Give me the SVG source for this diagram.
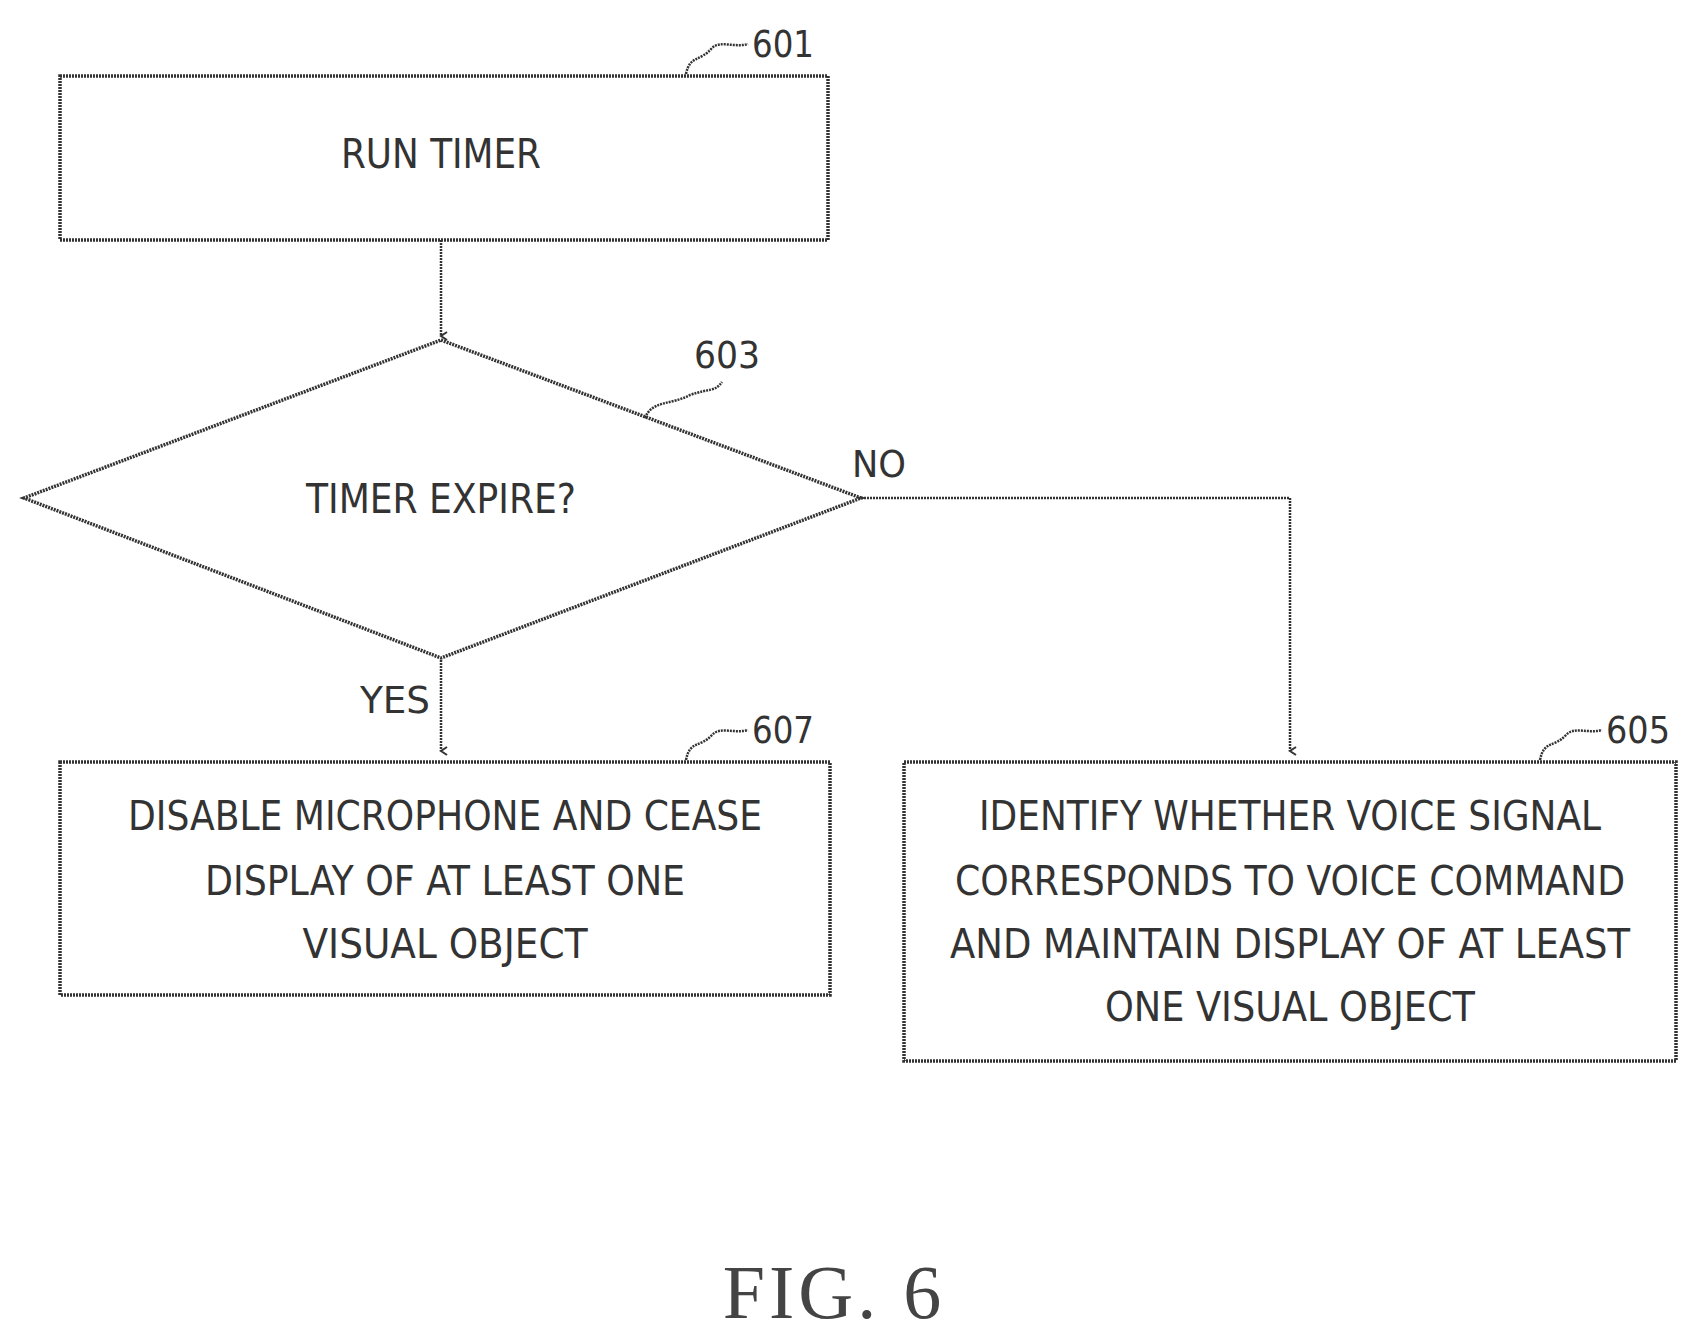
<svg xmlns="http://www.w3.org/2000/svg" width="1700" height="1337" viewBox="0 0 1700 1337">
<style>
.b{fill:#fff;stroke:#333;stroke-width:3.5;stroke-dasharray:2 1}
.t{font-family:"DejaVu Sans Condensed","DejaVu Sans",sans-serif;font-size:40px;fill:#333;text-anchor:middle}
.r{font-family:"DejaVu Sans Condensed","DejaVu Sans",sans-serif;font-size:38px;fill:#333}
.c{fill:none;stroke:#333;stroke-width:2.5;stroke-dasharray:2 1}
</style>
<defs><marker id="a" markerWidth="10" markerHeight="10" refX="5" refY="8" orient="auto-start-reverse" markerUnits="userSpaceOnUse" viewBox="0 0 10 10"><path d="M1,2 L5,8 L9,2" fill="none" stroke="#333" stroke-width="2"/></marker></defs>
<rect width="1700" height="1337" fill="#fff"/>
<g id="connectors">
<line class="c" x1="441" y1="240" x2="441" y2="336" marker-end="url(#a)"/>
<line class="c" x1="441" y1="660" x2="441" y2="751" marker-end="url(#a)"/>
<polyline class="c" points="861,498 1290,498 1290,751" marker-end="url(#a)"/>
</g>
<g id="n601">
<rect class="b" x="60" y="76" width="768" height="164"/>
<text class="t" x="441" y="168" textLength="200" lengthAdjust="spacingAndGlyphs">RUN TIMER</text>
<path class="c" d="M686,74 C690,55 700,62 712,48 C720,40 735,48 748,44"/>
<text class="r" x="752" y="57" textLength="62" lengthAdjust="spacingAndGlyphs">601</text>
</g>
<g id="n603">
<polygon class="b" points="441,340 861,498 441,658 24,498"/>
<text class="t" x="441" y="513" textLength="270" lengthAdjust="spacingAndGlyphs">TIMER EXPIRE?</text>
<path class="c" d="M645,418 C652,400 672,405 690,395 C710,388 715,392 722,382"/>
<text class="r" x="694" y="368" textLength="66" lengthAdjust="spacingAndGlyphs">603</text>
<text class="r" x="852" y="477" textLength="54" lengthAdjust="spacingAndGlyphs">NO</text>
<text class="r" x="360" y="713" textLength="70" lengthAdjust="spacingAndGlyphs">YES</text>
</g>
<g id="n607">
<rect class="b" x="60" y="762" width="770" height="233"/>
<text class="t" x="445" y="830" textLength="634" lengthAdjust="spacingAndGlyphs">DISABLE MICROPHONE AND CEASE</text>
<text class="t" x="445" y="895" textLength="480" lengthAdjust="spacingAndGlyphs">DISPLAY OF AT LEAST ONE</text>
<text class="t" x="445" y="958" textLength="285" lengthAdjust="spacingAndGlyphs">VISUAL OBJECT</text>
<path class="c" d="M686,760 C690,740 700,748 712,735 C720,726 735,734 748,730"/>
<text class="r" x="752" y="743" textLength="62" lengthAdjust="spacingAndGlyphs">607</text>
</g>
<g id="n605">
<rect class="b" x="912" y="762" width="772" height="299" transform="translate(-8,0)"/>
<text class="t" x="1290" y="830" textLength="622" lengthAdjust="spacingAndGlyphs">IDENTIFY WHETHER VOICE SIGNAL</text>
<text class="t" x="1290" y="895" textLength="670" lengthAdjust="spacingAndGlyphs">CORRESPONDS TO VOICE COMMAND</text>
<text class="t" x="1290" y="958" textLength="680" lengthAdjust="spacingAndGlyphs">AND MAINTAIN DISPLAY OF AT LEAST</text>
<text class="t" x="1290" y="1021" textLength="370" lengthAdjust="spacingAndGlyphs">ONE VISUAL OBJECT</text>
<path class="c" d="M1540,760 C1544,740 1554,748 1566,735 C1574,726 1589,734 1602,730"/>
<text class="r" x="1606" y="743" textLength="64" lengthAdjust="spacingAndGlyphs">605</text>
</g>
<text x="834" y="1318" font-family="Liberation Serif,serif" font-size="76" fill="#444" text-anchor="middle" letter-spacing="4">FIG. 6</text>
</svg>
